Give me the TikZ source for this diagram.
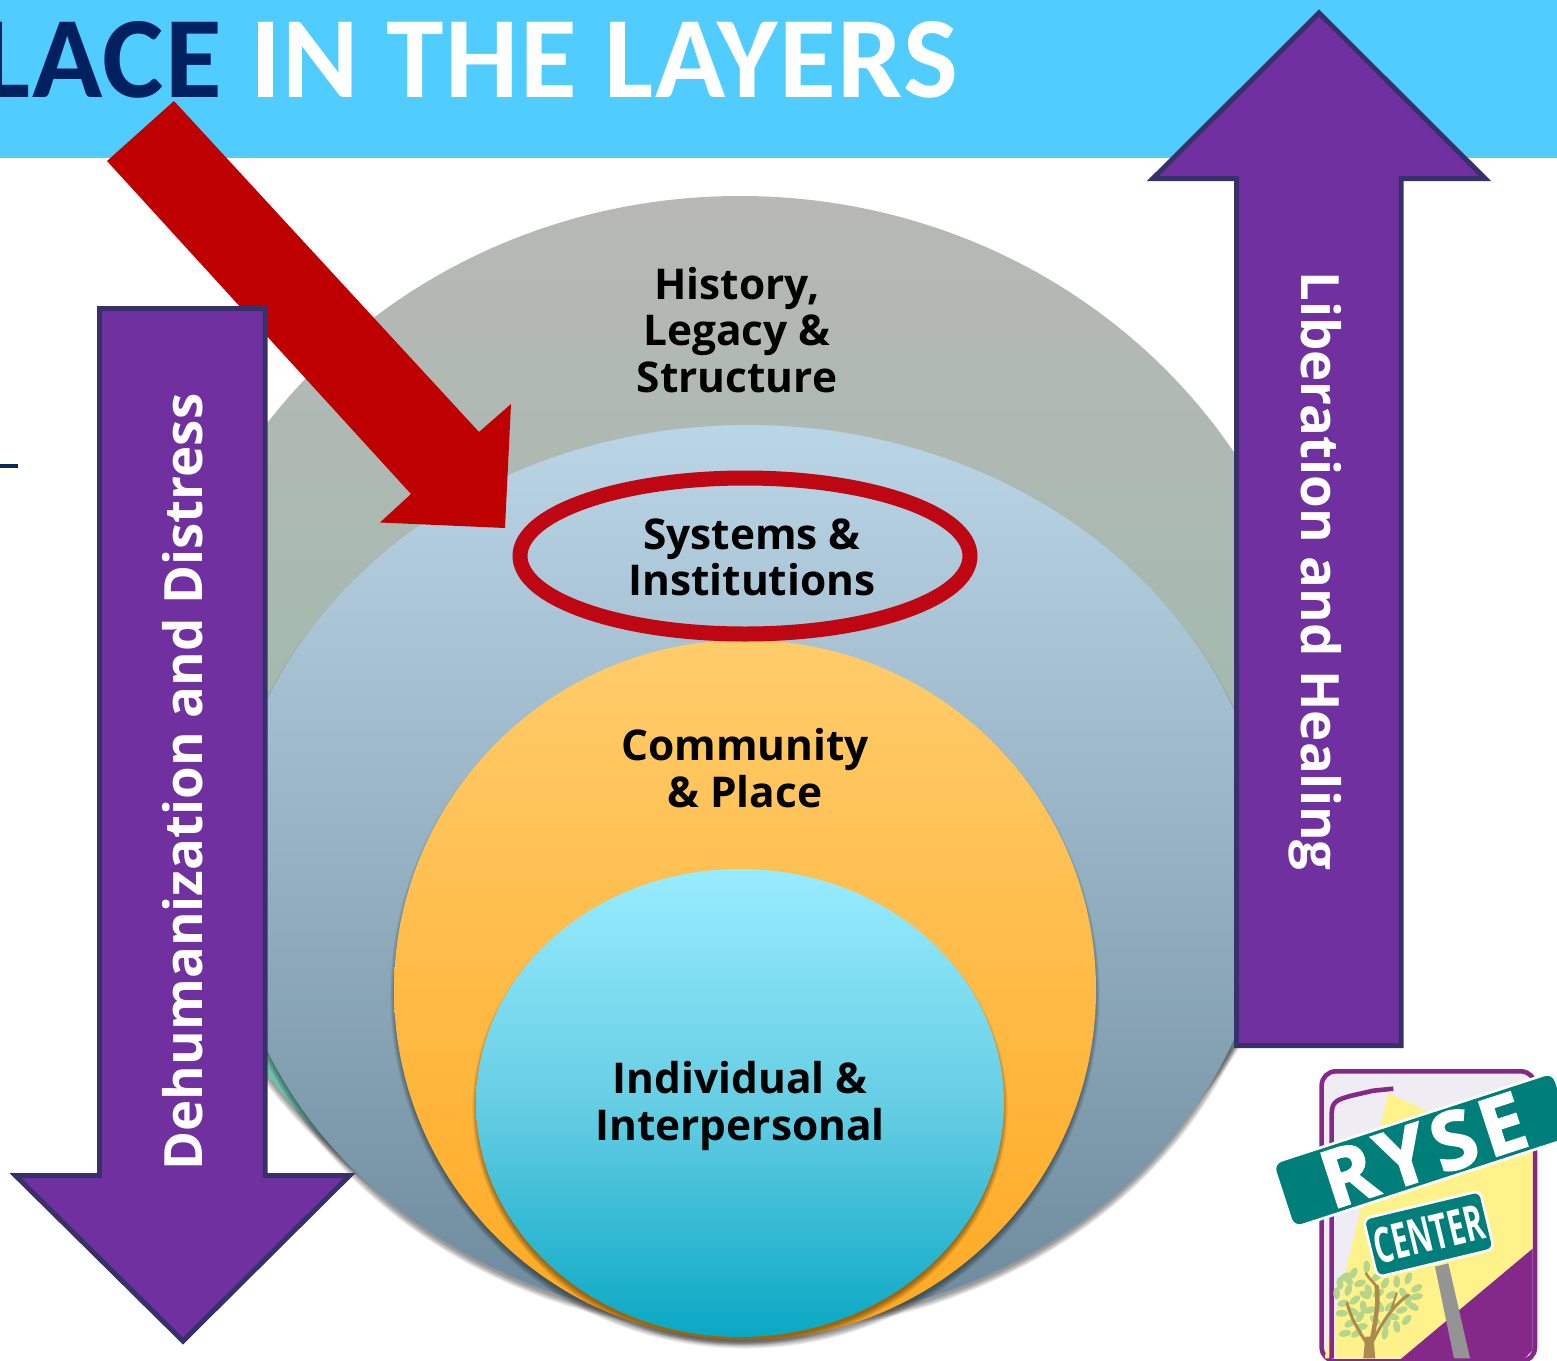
\documentclass[tikz,border=0pt]{standalone}
\usepackage{fontspec}
\setmainfont{Open Sans}
\newfontfamily\titlefont[LetterSpace=1.3]{Carlito}
\usetikzlibrary{shapes.geometric}
\definecolor{banner}{HTML}{50CCFF}
\definecolor{navy}{HTML}{002060}
\definecolor{dashnavy}{HTML}{0D2B55}
\definecolor{purplefill}{HTML}{7030A0}
\definecolor{purpleline}{HTML}{38306A}
\definecolor{redarrow}{HTML}{BE0000}
\definecolor{redring}{HTML}{BE0712}
\definecolor{logopurple}{HTML}{84298A}
\definecolor{logoteal}{HTML}{007F7A}
\definecolor{logoyellow}{HTML}{FFF28A}
\definecolor{logopale}{HTML}{EFEDF3}
\definecolor{leaf}{HTML}{B5D68A}
\definecolor{bark}{HTML}{A98B4E}
\definecolor{grayT}{HTML}{B8B8B6}
\definecolor{grayM}{HTML}{A2BAAE}
\definecolor{grayB}{HTML}{50C4AA}
\definecolor{blueT}{HTML}{BAD5E6}
\definecolor{blueB}{HTML}{6D8A9C}
\definecolor{orangeT}{HTML}{FFCC6B}
\definecolor{orangeB}{HTML}{FFA921}
\definecolor{cyanT}{HTML}{99ECFF}
\definecolor{cyanM}{HTML}{66CEE4}
\definecolor{cyanB}{HTML}{0AA8C4}
\definecolor{polegray}{HTML}{949494}
\tikzset{
  layer/.style={ellipse,inner sep=0pt,outer sep=0pt,draw=none},
  layertext/.style={font=\bfseries\fontsize{42.4}{46.2}\selectfont,align=center,text=black,inner sep=0pt},
  sidetext/.style={font=\bfseries\fontsize{52.8}{56}\selectfont,text=white,inner sep=0pt},
  bigarrow/.style={fill=purplefill,draw=purpleline,line width=5pt,line join=miter,miter limit=10},
  sign/.style={fill=logoteal,draw=white,line width=2.6pt,rounded corners=7pt,inner sep=0pt,text=white,font=\bfseries}
}
\newcommand{\softshadow}[4]{%
  \foreach \k in {0,...,7}{
    \fill[black,opacity=.06] (#1,#2+5) ellipse [x radius=#3+\k*0.8-2,y radius=#4+\k*0.8-2];
  }}
\begin{document}
\begin{tikzpicture}[x=1pt,y=-1pt]
\useasboundingbox (0,0) rectangle (1557,1360);
\clip (0,0) rectangle (1557,1360);
\fill[white] (0,0) rectangle (1557,1360);
\fill[banner] (0,0) rectangle (1557,158);
\node[anchor=base east,inner sep=0pt,font=\titlefont\bfseries\fontsize{116}{120}\selectfont,text=white] (title) at (958,97) {{\color{navy}LACE} IN THE LAYERS};
\fill[dashnavy] (-2,463.5) rectangle (18,468);

% nested layers
\softshadow{740}{749}{585}{553}
\node[layer,minimum width=1170pt,minimum height=1106pt,top color=grayT,bottom color=grayB,middle color=grayM] (history) at (740,749) {};
\softshadow{748}{875}{522}{450}
\node[layer,minimum width=1044pt,minimum height=900pt,top color=blueT,bottom color=blueB] (systems) at (748,875) {};
\softshadow{745}{990}{351}{350}
\node[layer,minimum width=702pt,minimum height=700pt,top color=orangeT,bottom color=orangeB] (community) at (745,990) {};
\softshadow{740}{1103}{264}{234}
\node[layer,minimum width=528pt,minimum height=468pt,top color=cyanT,bottom color=cyanB,middle color=cyanM] (individual) at (740,1103) {};

% layer labels
\node[layertext] (t1) at (737,330) {History,\\Legacy \&\\Structure};
\node[layertext] (t2) at (752,557) {Systems \&\\Institutions};
\node[layertext] (t3) at (745,768) {Community\\\& Place};
\node[layertext] (t4) at (740,1106) {Individual \&\\Interpersonal};

% red arrow
\fill[redarrow] (174,101) -- (479,432) -- (511,404) -- (505,528) -- (380,522.5) -- (411,494) -- (107,161) -- cycle;
% red ring
\node[ellipse,draw=redring,line width=15pt,minimum width=450pt,minimum height=156pt,inner sep=0pt] (ring) at (745,556) {};

% purple arrows
\draw[bigarrow] (99.5,308.5) -- (265,308.5) -- (265,1175.5) -- (349.5,1175.5) -- (183,1341) -- (15.5,1175.5) -- (99.5,1175.5) -- cycle;
\draw[bigarrow] (1319,13) -- (1485,178.5) -- (1401,178.5) -- (1401,1045.5) -- (1236.5,1045.5) -- (1236.5,178.5) -- (1153,178.5) -- cycle;
\node[sidetext,rotate=90] (down) at (183,782) {Dehumanization and Distress};
\node[sidetext,rotate=-90] (up) at (1315,571) {Liberation and Healing};

% logo
\begin{scope}[shift={(1260,1050)},x=.3333pt,y=-.3333pt]
  \draw[logopurple,line width=4.6pt,fill=logopale,rounded corners=14pt] (185,64) rectangle (825,934);
  \fill[logoyellow] (385,130) -- (490,178) -- (818,300) -- (818,600) -- (425,925) -- (225,925) -- (225,800) -- cycle;
  \fill[logopurple] (425,925) -- (818,596) -- (818,900) -- (790,930) -- (420,930) -- cycle;
  \fill[logoyellow] (194,925) -- (208,925) -- (208,850) -- cycle;
  \draw[logopurple,line width=4.6pt] (215,925) -- (215,190) .. controls (215,150) and (240,148) .. (270,138) -- (340,122) -- (400,116);
  \fill[polegray] (525,650) -- (565,640) -- (630,925) -- (582,925) -- cycle;
  % tree
  \foreach \a/\b/\r in {255/680/30,280/670/60,320/650/90,300/700/20,265/720/70,240/700/100,250/760/10,285/750/40,245/790/0,270/820/30,300/800/60,325/720/110,375/700/60,410/695/90,445/685/70,470/715/30,430/730/120,390/770/40,425/780/20,470/740/10,460/770/150,360/770/120,330/780/20,380/820/60,410/830/100,290/850/30,255/850/10,375/850/80,440/810/50,350/680/40,315/735/150,395/735/20,280/785/150,310/770/100,355/730/30,345/810/140,400/800/160,445/750/80,265/690/130,305/830/10,230/730/90}{
    \fill[leaf,rotate around={\r:(\a,\b)}] (\a,\b) ellipse [x radius=19,y radius=10];
  }
  \draw[bark,line width=4.5pt,line cap=round] (330,900) .. controls (345,820) and (358,760) .. (350,710);
  \draw[bark,line width=2.6pt,line cap=round] (350,710) .. controls (340,695) and (325,685) .. (318,670);
  \draw[bark,line width=3pt,line cap=round] (335,880) .. controls (365,820) and (395,770) .. (445,735);
  \draw[bark,line width=3pt,line cap=round] (320,880) .. controls (295,840) and (270,800) .. (262,760);
  \draw[bark,line width=2pt,line cap=round] (395,775) -- (410,730);
  \fill[bark] (310,925) -- (316,860) -- (340,860) -- (346,925) -- cycle;
  % signs
  \node[sign,rotate=13.5,minimum width=120pt,minimum height=60pt] (center) at (506,552) {\fontsize{49}{49}\selectfont\scalebox{.6}[1]{CENTER}};
  \node[sign,rotate=18,minimum width=295pt,minimum height=68pt,rounded corners=9pt] (ryse) at (490,300) {\fontsize{80}{80}\selectfont\addfontfeature{LetterSpace=8,FakeBold=2}RYSE};
\end{scope}
\end{tikzpicture}
\end{document}
